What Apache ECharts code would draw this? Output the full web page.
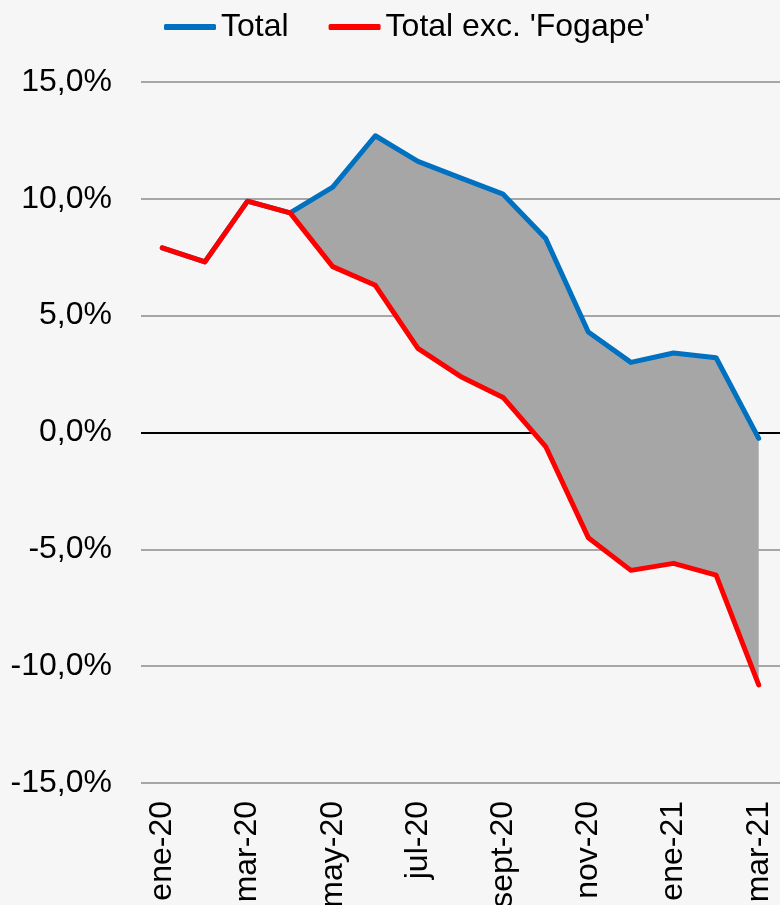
<!DOCTYPE html>
<html>
<head>
<meta charset="utf-8">
<script src="https://cdn.jsdelivr.net/npm/echarts@6/dist/echarts.min.js"></script>
<style>
  html, body { margin: 0; padding: 0; background: #f6f6f6; }
  #chart { width: 780px; height: 905px; }
</style>
</head>
<body>
<div id="chart"></div>
<script>
// meses
const categories = ['ene-20', 'feb-20', 'mar-20', 'abr-20', 'may-20', 'jun-20', 'jul-20', 'ago-20',
  'sept-20', 'oct-20', 'nov-20', 'dic-20', 'ene-21', 'feb-21', 'mar-21']

// variación anual (%)
const total = [7.9, 7.3, 9.9, 9.4, 10.5, 12.7, 11.6, 10.9, 10.2, 8.3, 4.3, 3.0, 3.4, 3.2, -0.25]
const totalExFogape = [7.9, 7.3, 9.9, 9.4, 7.1, 6.3, 3.6, 2.4, 1.5, -0.6, -4.5, -5.9, -5.6, -6.1, -10.8]

// la zona gris empieza en abr-20
const bandStart = 3

const yTicks = { min: -15, max: 15, step: 5 }

// base y diferencia para pintar el área entre las dos curvas
const bandBase = totalExFogape.map((v, i) => (i < bandStart ? '-' : v))
const bandDiff = total.map((v, i) => (i < bandStart ? '-' : +(v - totalExFogape[i]).toFixed(2)))

const chart = echarts.init(document.getElementById('chart'))
const font = 'Liberation Sans, Arial, sans-serif'

const option = {
  backgroundColor: '#f6f6f6',
  animation: false,
  textStyle: { fontFamily: font },
  legend: {
    data: ['Total', "Total exc. 'Fogape'"],
    icon: 'roundRect',
    left: 159,
    top: 6,
    itemWidth: 52,
    itemHeight: 6,
    itemGap: 40,
    textStyle: { fontSize: 32, color: '#000', fontFamily: font },
  },
  grid: {
    left: 141,
    right: 0,
    top: 82,
    bottom: 122,
    containLabel: false,
    outerBoundsMode: 'none',
  },
  xAxis: {
    type: 'category',
    data: categories,
    boundaryGap: true,
    axisLine: { show: false },
    axisTick: { show: false },
    axisLabel: {
      interval: 1,
      rotate: 90,
      margin: 18,
      fontSize: 32,
      color: '#000',
      fontFamily: font,
    },
  },
  yAxis: {
    type: 'value',
    min: yTicks.min,
    max: yTicks.max,
    interval: yTicks.step,
    axisLine: { show: false },
    axisTick: { show: false },
    axisLabel: {
      margin: 29,
      fontSize: 32,
      color: '#000',
      fontFamily: font,
      formatter: v => v.toFixed(1).replace('.', ',') + '%',
    },
    splitLine: {
      lineStyle: {
        // la línea del cero va en negro
        color: ['#a6a6a6', '#a6a6a6', '#a6a6a6', '#000000', '#a6a6a6', '#a6a6a6', '#a6a6a6'],
        width: 2,
      },
    },
  },
  series: [
    {
      name: 'base',
      type: 'line',
      stack: 'band',
      stackStrategy: 'all',
      data: bandBase,
      symbol: 'none',
      lineStyle: { opacity: 0 },
      silent: true,
    },
    {
      name: 'band',
      type: 'line',
      stack: 'band',
      stackStrategy: 'all',
      data: bandDiff,
      symbol: 'none',
      lineStyle: { opacity: 0 },
      areaStyle: { color: '#a6a6a6', opacity: 1 },
      silent: true,
    },
    {
      name: 'Total',
      type: 'line',
      data: total,
      symbol: 'none',
      color: '#0070c0',
      lineStyle: { width: 5, color: '#0070c0', cap: 'round', join: 'round' },
    },
    {
      name: "Total exc. 'Fogape'",
      type: 'line',
      data: totalExFogape,
      symbol: 'none',
      color: '#ff0000',
      lineStyle: { width: 5, color: '#ff0000', cap: 'round', join: 'round' },
    },
  ],
}

chart.setOption(option)
</script>
</body>
</html>
